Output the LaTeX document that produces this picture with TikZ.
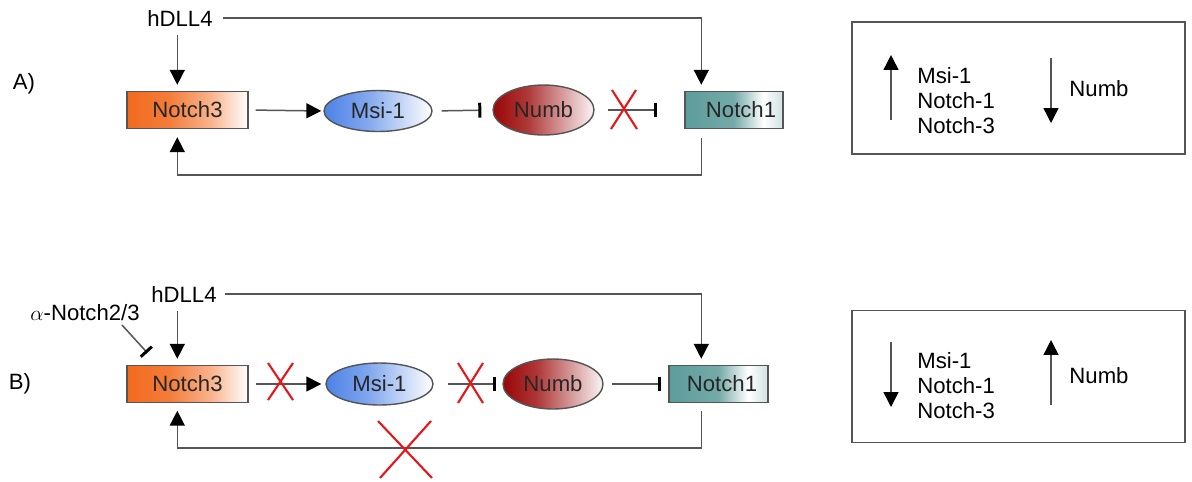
\documentclass[tikz,border=0pt]{standalone}
\usepackage{fontspec}
\setmainfont{Liberation Sans}
\usetikzlibrary{arrows.meta,shapes.geometric,calc}
\definecolor{linec}{HTML}{555555}
\definecolor{orangec}{HTML}{F26A1E}
\definecolor{bluec}{HTML}{4C82E6}
\definecolor{redc}{HTML}{9A0606}
\definecolor{tealc}{HTML}{5C9C9A}
\definecolor{xred}{HTML}{E8161B}
\pgfdeclarehorizontalshading{orsh}{100bp}{color(0bp)=(orangec); color(25bp)=(orangec); color(42bp)=(orangec!88); color(60bp)=(orangec!50); color(75bp)=(white); color(100bp)=(white)}
\pgfdeclarehorizontalshading{blsh}{100bp}{color(0bp)=(bluec); color(25bp)=(bluec); color(45bp)=(bluec!70); color(75bp)=(white); color(100bp)=(white)}
\pgfdeclarehorizontalshading{rdsh}{100bp}{color(0bp)=(redc); color(25bp)=(redc); color(42bp)=(redc!80); color(75bp)=(redc!4); color(100bp)=(redc!4)}
\pgfdeclarehorizontalshading{tlsh}{100bp}{color(0bp)=(tealc); color(25bp)=(tealc); color(50bp)=(tealc!85); color(65bp)=(white); color(75bp)=(tealc!30); color(100bp)=(tealc!30)}
\begin{document}
\begin{tikzpicture}[x=0.02cm,y=-0.02cm,
  font=\fontsize{12.6}{14.2}\selectfont,
  conn/.style={draw=linec, line width=0.85pt},
  act/.style={conn, -{Triangle[length=8.5pt,width=8.5pt,color=black]}},
  inh/.style={conn, -{Bar[width=8.5pt,line width=1.7pt,color=black]}},
  gbox/.style={rectangle, draw=linec, line width=0.8pt, minimum height=0.74cm, inner sep=0pt, shade, text=black!85},
  gell/.style={ellipse, draw=linec, line width=0.8pt, inner sep=0pt, shade, text=black!85},
  crossx/.style={draw=xred, line width=1.2pt},
  pbox/.style={rectangle, draw=linec, line width=0.8pt, minimum width=6.66cm, minimum height=2.64cm, inner sep=0pt},
  lbl/.style={inner sep=2pt}
]
\useasboundingbox (0,0) rectangle (1192,481);

% ---------------- Panel A ----------------
\node[lbl] (labA) at (24,84) {A)};
\node[lbl] (hA) at (180,18) {hDLL4};
\node[gbox, shading=orsh, minimum width=2.42cm] (n3A) at (187.5,110) {Notch3\hspace{8pt}};
\node[gell, shading=blsh, minimum width=2.16cm, minimum height=0.82cm] (msA) at (378,111) {Msi-1};
\node[gell, shading=rdsh, minimum width=2.02cm, minimum height=1.0cm] (nbA) at (543.5,110) {Numb};
\node[gbox, shading=tlsh, minimum width=1.96cm] (n1A) at (734,110) {\hspace{8pt}Notch1};

\draw[act, shorten <=0.14cm, shorten >=0.04cm] (n3A.east) -- (msA.west);
\draw[inh, shorten <=0.18cm, shorten >=0.22cm] (msA.east) -- (nbA.west);
\draw[inh, shorten <=0.26cm, shorten >=0.54cm] (nbA.east) -- (n1A.west);

\coordinate (n1inA) at ([xshift=0.34cm]n1A.north west);
\coordinate (n3inA) at ([xshift=1.02cm]n3A.north west);
\draw[act, shorten <=0.14cm, shorten >=0.12cm] (hA.east) -| (n1inA);
\draw[act, shorten <=0.1cm, shorten >=0.12cm] (hA.south -| n3inA) -- (n3inA);
\draw[act, shorten <=0.18cm, shorten >=0.16cm] ([xshift=0.34cm]n1A.south west) -- ++(0,46) -| ([xshift=1.02cm]n3A.south west);

\draw[crossx] (612,90) -- (637,129) (636,90) -- (611,129);

% right box A
\node[pbox] (rA) at (1018.5,88) {};
\coordinate (uA0) at (891,120); \coordinate (uA1) at (891,55);
\draw[act] (uA0) -- (uA1);
\node[anchor=north west, align=left, inner sep=0pt] (lA) at (917,67) {Msi-1\\Notch-1\\Notch-3};
\coordinate (dA0) at (1051,58); \coordinate (dA1) at (1051,123);
\draw[act] (dA0) -- (dA1);
\node[lbl] (nA) at (1099,89) {Numb};

% ---------------- Panel B ----------------
\node[lbl] (labB) at (20,384) {B)};
\node[lbl] (hB) at (184,294) {hDLL4};
\node[lbl] (aB) at (85,313) {$\alpha$-Notch2/3};
\node[gbox, shading=orsh, minimum width=2.42cm] (n3B) at (187.5,384) {Notch3\hspace{8pt}};
\node[gell, shading=blsh, minimum width=2.14cm, minimum height=0.84cm] (msB) at (379.5,384) {Msi-1};
\node[gell, shading=rdsh, minimum width=2.0cm, minimum height=1.0cm] (nbB) at (553,384) {Numb};
\node[gbox, shading=tlsh, minimum width=1.98cm] (n1B) at (718.5,384) {\hspace{4pt}Notch1};

\draw[act, shorten <=0.14cm, shorten >=0.08cm] (n3B.east) -- (msB.west);
\draw[inh, shorten <=0.28cm, shorten >=0.12cm] (msB.east) -- (nbB.west);
\draw[inh, shorten <=0.16cm, shorten >=0.14cm] (nbB.east) -- (n1B.west);

\coordinate (n1inB) at ([xshift=0.66cm]n1B.north west);
\coordinate (n3inB) at ([xshift=1.02cm]n3B.north west);
\draw[act, shorten <=0.1cm, shorten >=0.12cm] (hB.east) -| (n1inB);
\draw[act, shorten <=0.1cm, shorten >=0.12cm] (hB.south -| n3inB) -- (n3inB);
\draw[act, shorten <=0.16cm, shorten >=0.15cm] ([xshift=0.66cm]n1B.south west) -- ++(0,45) -| ([xshift=1.02cm]n3B.south west);
\draw[inh] ([xshift=0.74cm]aB.south) -- ([xshift=0.42cm,yshift=0.24cm]n3B.north west);

\draw[crossx] (268,363) -- (293,400) (293,363) -- (268,400);
\draw[crossx] (458,363) -- (483,403) (483,363) -- (458,403);
\draw[crossx] (378,421) -- (432,478) (431,421) -- (380,478);

% right box B
\node[pbox] (rB) at (1018.5,376.5) {};
\coordinate (dB0) at (891,342); \coordinate (dB1) at (891,407);
\draw[act] (dB0) -- (dB1);
\node[anchor=north west, align=left, inner sep=0pt] (lB) at (917,352) {Msi-1\\Notch-1\\Notch-3};
\coordinate (uB0) at (1051,405); \coordinate (uB1) at (1051,340);
\draw[act] (uB0) -- (uB1);
\node[lbl] (nB) at (1099,376) {Numb};
\end{tikzpicture}
\end{document}
